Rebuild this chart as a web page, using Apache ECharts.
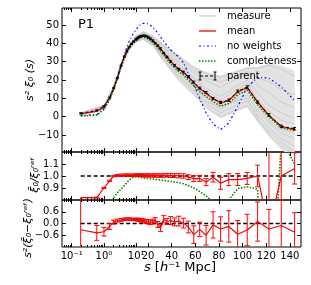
<!DOCTYPE html>
<html><head><meta charset="utf-8">
<script src="https://cdn.jsdelivr.net/npm/echarts@6/dist/echarts.min.js"></script>
<style>html,body{margin:0;padding:0;background:#fff}#c{width:311px;height:285px}</style>
</head><body><div id="c"></div>
<script>
// ---------- data ----------
const sVals = [0.19, 0.6, 1.0, 1.5, 2.0, 2.6, 3.4, 4.3, 5.1, 6.0, 7.1, 8.3, 9.8, 10.6, 11.5, 12.5, 13.5, 14.7, 15.9, 17.3, 18.8, 20.4, 22.1, 24.0, 26.0, 28.2, 30.6, 33.2, 36.0, 39.1, 42.4, 46.0, 49.9, 54.1, 58.7, 63.7, 69.1, 75.0, 81.4, 88.3, 95.8, 103.9, 112.7, 122.3, 132.7, 144.0];
const meanVals = [1.5, 2.9, 5.3, 10.3, 15.6, 21.2, 28.0, 33.0, 35.8, 38.0, 39.9, 41.2, 42.3, 42.8, 43.3, 43.7, 44.0, 44.3, 44.4, 44.3, 43.9, 43.3, 42.6, 41.6, 40.3, 38.8, 37.0, 34.9, 32.7, 30.3, 28.1, 26.0, 24.3, 21.6, 18.3, 15.3, 12.6, 9.8, 7.5, 8.8, 13.4, 15.9, 8.0, 0.6, -5.4, -7.1];
const parentVals = [1.8, 3.4, 5.7, 10.4, 15.5, 21.0, 27.8, 32.8, 35.6, 37.8, 39.7, 41.0, 42.1, 42.6, 43.1, 43.5, 43.8, 44.1, 44.2, 44.2, 43.8, 43.2, 42.5, 41.5, 40.1, 38.8, 37.2, 34.7, 32.6, 30.1, 28.0, 25.9, 24.3, 21.8, 18.9, 15.6, 13.2, 9.9, 7.8, 9.0, 13.9, 16.2, 7.9, 0.9, -5.3, -6.6];
const parentErr = [0.3, 0.3, 0.3, 0.3, 0.3, 0.3, 0.3, 0.3, 0.3, 0.3, 0.3, 0.3, 0.3, 0.3, 0.3, 0.3, 0.3, 0.3, 0.3, 0.3, 0.3, 0.4, 0.4, 0.4, 0.4, 0.4, 0.4, 0.4, 0.4, 0.4, 0.5, 0.5, 0.5, 0.5, 0.5, 0.5, 0.5, 0.5, 0.6, 0.6, 0.6, 0.6, 0.6, 0.7, 0.7, 0.7];
const noWeightVals = [0.6, 1.2, 4.5, 9.8, 15.3, 21.3, 28.3, 33.8, 37.8, 41.0, 43.6, 45.6, 47.4, 48.2, 48.9, 49.6, 50.1, 50.6, 50.9, 51.0, 50.9, 50.5, 49.8, 48.8, 47.5, 45.6, 43.5, 41.2, 38.8, 36.5, 34.5, 32.6, 29.5, 23.5, 17.3, 10.0, 2.0, -4.0, -7.0, -3.5, 5.5, 16.0, 21.5, 21.0, 16.3, 8.8];
const complVals = [0.3, 0.8, 3.8, 9.2, 14.8, 20.5, 27.2, 32.2, 35.0, 37.2, 39.0, 40.3, 41.3, 41.8, 42.3, 42.7, 43.0, 43.3, 43.4, 43.3, 42.9, 42.3, 41.5, 40.5, 39.2, 37.6, 35.8, 33.6, 31.4, 29.0, 26.8, 24.6, 22.8, 20.0, 16.8, 13.7, 11.0, 8.2, 5.8, 7.2, 11.8, 14.5, 6.6, -0.2, -6.0, -7.6];

const ratioVals = [0.82, 0.82, 0.90, 0.96, 1.0, 1.005, 1.006, 1.006, 1.007, 1.006, 1.005, 1.006, 1.007, 1.006, 1.005, 1.006, 1.007, 1.006, 1.005, 1.004, 1.005, 1.006, 1.004, 1.003, 1.005, 1.004, 1.003, 1.005, 1.006, 1.004, 1.003, 1.002, 1.0, 0.99, 0.978, 0.98, 0.95, 0.99, 0.94, 0.97, 0.97, 0.98, 1.0, 0.55, 1.0, 1.063];
const ratioErrLo = [1.0, 0.004, 0.005, 0.005, 0.006, 0.008, 0.01, 0.01, 0.01, 0.01, 0.01, 0.01, 0.01, 0.01, 0.01, 0.01, 0.01, 0.01, 0.01, 0.012, 0.012, 0.012, 0.012, 0.013, 0.013, 0.014, 0.014, 0.015, 0.015, 0.016, 0.016, 0.018, 0.018, 0.02, 0.025, 0.025, 0.03, 0.04, 0.05, 0.05, 0.05, 0.05, 0.09, 1.0, 0.3, 0.13];
const ratioErrHi = [0.0, 0.004, 0.005, 0.005, 0.006, 0.008, 0.01, 0.01, 0.01, 0.01, 0.01, 0.01, 0.01, 0.01, 0.01, 0.01, 0.01, 0.01, 0.01, 0.012, 0.012, 0.012, 0.012, 0.013, 0.013, 0.014, 0.014, 0.015, 0.015, 0.016, 0.016, 0.018, 0.018, 0.02, 0.025, 0.025, 0.03, 0.04, 0.05, 0.05, 0.05, 0.05, 0.09, 1.0, 0.3, 0.13];
const complRatioVals = [0.2, 0.28, 0.7, 0.77, 0.82, 0.86, 0.89, 0.92, 0.945, 0.965, 0.98, 0.99, 0.993, 0.993, 0.992, 0.99, 0.988, 0.986, 0.984, 0.982, 0.98, 0.978, 0.976, 0.974, 0.972, 0.97, 0.967, 0.963, 0.96, 0.955, 0.95, 0.945, 0.935, 0.92, 0.9, 0.87, 0.835, 0.78, 0.7, 0.8, 0.895, 0.91, 0.89, -0.6, 1.3, 1.1];

const diffVals = [-0.32, -0.48, -0.42, -0.15, 0.07, 0.15, 0.18, 0.22, 0.22, 0.23, 0.22, 0.21, 0.2, 0.21, 0.2, 0.19, 0.18, 0.15, 0.15, 0.12, 0.1, 0.08, 0.05, 0.1, 0.18, -0.05, -0.22, 0.22, 0.1, 0.15, 0.08, 0.12, 0.02, -0.18, -0.57, -0.3, -0.6, -0.07, -0.28, -0.15, -0.55, -0.33, 0.1, -0.28, -0.1, -0.45];
const diffErr = [3.0, 0.38, 0.22, 0.15, 0.1, 0.08, 0.07, 0.06, 0.06, 0.06, 0.06, 0.06, 0.06, 0.06, 0.07, 0.07, 0.07, 0.08, 0.08, 0.09, 0.1, 0.1, 0.11, 0.12, 0.12, 0.15, 0.18, 0.18, 0.15, 0.2, 0.2, 0.25, 0.25, 0.3, 0.45, 0.37, 0.5, 0.67, 0.62, 0.8, 0.7, 0.8, 1.0, 1.0, 1.3, 1.0];

// individual mock measurements ("measure"), on a coarser grid
const sGray = [0.19, 1.0, 2.0, 3.4, 6.0, 9.8, 15.9, 24.0, 33.2, 46.0, 58.7, 69.1, 81.4, 95.8, 103.9, 112.7, 122.3, 132.7, 144.0];
const grayUpper = [2.2, 6.4, 17.0, 29.5, 39.5, 44.2, 46.8, 44.5, 39.5, 33.5, 27.5, 24.5, 22.5, 25.5, 27.0, 27.0, 29.0, 28.0, 25.0];
const grayLower = [0.8, 4.2, 14.2, 26.5, 36.5, 40.5, 42.0, 38.5, 30.0, 19.5, 11.5, 4.5, -1.0, 3.0, 5.0, -3.0, -11.0, -18.0, -23.0];
const gray1 = [2.0, 6.2, 16.7, 29.0, 39.2, 44.0, 46.3, 43.8, 38.2, 31.5, 25.5, 21.0, 19.0, 22.5, 24.5, 21.0, 19.0, 15.0, 12.0];
const gray2 = [1.0, 4.4, 14.5, 26.9, 36.9, 40.9, 42.6, 39.3, 31.2, 21.5, 13.5, 7.0, 2.0, 6.5, 8.5, 1.0, -6.0, -12.0, -16.0];
const gray3 = [1.7, 5.6, 16.0, 28.4, 38.5, 43.0, 45.2, 42.5, 36.0, 28.5, 21.5, 15.5, 11.0, 17.0, 20.0, 13.0, 6.0, 2.0, -1.0];
const gray4 = [1.3, 4.9, 15.2, 27.5, 37.4, 41.7, 43.7, 40.6, 33.2, 23.8, 16.0, 9.5, 4.0, 10.0, 12.0, 3.0, -3.0, -9.0, -12.0];
const gray5 = [1.9, 5.9, 16.4, 28.7, 38.9, 43.6, 45.8, 43.2, 37.4, 30.0, 24.0, 19.5, 16.0, 21.0, 24.0, 17.0, 13.0, 8.0, 5.0];
const gray6 = [1.2, 4.6, 14.9, 27.2, 37.1, 41.2, 43.1, 39.8, 32.0, 22.5, 14.5, 8.0, 5.0, 9.0, 10.0, -1.0, -10.0, -16.0, -20.0];
const gray7 = [1.6, 5.4, 15.8, 28.2, 38.2, 42.6, 44.8, 42.0, 35.5, 27.5, 20.5, 14.0, 9.0, 15.0, 18.0, 9.5, 3.0, -2.0, -4.0];
const gray8 = [1.4, 5.1, 15.5, 27.8, 37.7, 42.1, 44.1, 41.0, 34.0, 25.0, 17.5, 11.0, 6.0, 12.5, 14.5, 6.0, -2.0, -7.0, -9.0];
const gray9 = [1.8, 6.0, 16.6, 28.9, 39.0, 43.8, 46.0, 44.0, 39.0, 33.0, 27.0, 23.5, 21.5, 24.5, 26.5, 26.5, 28.0, 26.0, 22.0];
const gray10 = [1.1, 4.3, 14.4, 26.7, 36.7, 40.7, 42.3, 38.8, 30.5, 20.0, 12.0, 5.0, 0.0, 4.0, 6.0, -2.0, -8.0, -14.0, -19.0];
const grayLines = [gray1, gray2, gray3, gray4, gray5, gray6, gray7, gray8, gray9, gray10];

// axis ticks
const xMajor = [0.1, 1, 10, 20, 40, 60, 80, 100, 120, 140];
const xMajorLabels = ['10\u207B\u00B9', '10\u2070', '10\u00B9', '20', '40', '60', '80', '100', '120', '140'];
const xMinor = [0.06, 0.07, 0.08, 0.09, 0.2, 0.3, 0.4, 0.5, 0.6, 0.7, 0.8, 0.9, 2, 3, 4, 5, 6, 7, 8, 9];
const yTopTicks = [-10, 0, 10, 20, 30, 40, 50];
const yMidTicks = [0.9, 1.0, 1.1];
const yMidLabels = ['0.9', '1.0', '1.1'];
const yBotTicks = [-0.6, 0.0, 0.6];
const yBotLabels = ['\u22120.6', '0.0', '0.6'];

// ---------- hybrid axis: log below s=10, linear above ----------
const LIN_K = 27.3;
function toU(s) { return s <= 10 ? Math.log10(s) : 1 + (s - 10) / LIN_K; }
const X_MIN = toU(0.0501), X_MAX = toU(149.4);

const FONT = 'DejaVu Sans';
const chart = echarts.init(document.getElementById('c'), null, {renderer: 'canvas'});

const grids = [
  {left: 62, top: 8, width: 239, height: 144},
  {left: 62, top: 152, width: 239, height: 48},
  {left: 62, top: 200, width: 239, height: 47}
];
const yRanges = [[-19.3, 59.3], [0.8, 1.2], [-1.2, 1.2]];
const yTicks = [yTopTicks, yMidTicks, yBotTicks];

const xAxes = [], yAxes = [];
grids.forEach((g, gi) => {
  ['bottom', 'top'].forEach(pos => {
    [[xMajor, 4], [xMinor, 2]].forEach(([vals, len], k) => {
      const showLab = gi === 2 && pos === 'bottom' && k === 0;
      xAxes.push({
        type: 'value', gridIndex: gi, position: pos, min: X_MIN, max: X_MAX,
        axisLine: {show: false, onZero: false}, splitLine: {show: false},
        axisTick: {show: true, inside: true, length: len, customValues: vals.map(toU), lineStyle: {color: '#000', width: 1}},
        axisLabel: {show: showLab, customValues: xMajor.map(toU), margin: 4, fontFamily: FONT, fontSize: 10, color: '#000',
          formatter: v => { for (let i = 0; i < xMajor.length; i++) if (Math.abs(toU(xMajor[i]) - v) < 1e-6) return xMajorLabels[i]; return ''; }}
      });
    });
  });
  ['left', 'right'].forEach(pos => {
    const showLab = pos === 'left';
    yAxes.push({
      type: 'value', gridIndex: gi, position: pos, min: yRanges[gi][0], max: yRanges[gi][1],
      axisLine: {show: false, onZero: false}, splitLine: {show: false},
      axisTick: {show: true, inside: true, length: 4, customValues: yTicks[gi], lineStyle: {color: '#000'}},
      axisLabel: {show: showLab, customValues: yTicks[gi], margin: 3, fontFamily: FONT, fontSize: 10, color: '#000',
        formatter: v => {
          if (gi === 0) return v < 0 ? '\u2212' + Math.abs(v) : String(v);
          const arr = gi === 1 ? yMidTicks : yBotTicks, lab = gi === 1 ? yMidLabels : yBotLabels;
          for (let i = 0; i < arr.length; i++) if (Math.abs(arr[i] - v) < 1e-6) return lab[i];
          return '';
        }}
    });
  });
});

function lineSeries(gi, xs, ys, color, width, type, z) {
  return {type: 'line', xAxisIndex: gi * 4, yAxisIndex: gi * 2, data: xs.map((s, i) => [toU(s), ys[i]]),
    symbol: 'none', clip: true, silent: true, z: z,
    lineStyle: {color: color, width: width, type: type, cap: 'butt'}};
}
function errSeries(gi, xs, ys, lo, hi, color, lw, cap, z) {
  return {type: 'custom', xAxisIndex: gi * 4, yAxisIndex: gi * 2, z: z, silent: true,
    data: xs.map((s, i) => [toU(s), ys[i], lo[i], hi[i]]),
    encode: {x: 0, y: 1},
    renderItem: function (params, api) {
      const x = api.value(0), y = api.value(1), l = api.value(2), h = api.value(3);
      const cs = params.coordSys;
      const pt = api.coord([x, y + h]), pb = api.coord([x, y - l]);
      const y0 = cs.y, y1 = cs.y + cs.height;
      const ch = [];
      const ty = Math.max(pt[1], y0), by = Math.min(pb[1], y1);
      const st = {stroke: color, lineWidth: lw};
      if (by > ty) ch.push({type: 'line', shape: {x1: pt[0], y1: ty, x2: pt[0], y2: by}, style: st});
      if (h > 0 && pt[1] >= y0 && pt[1] <= y1) ch.push({type: 'line', shape: {x1: pt[0] - cap, y1: pt[1], x2: pt[0] + cap, y2: pt[1]}, style: st});
      if (l > 0 && pb[1] >= y0 && pb[1] <= y1) ch.push({type: 'line', shape: {x1: pb[0] - cap, y1: pb[1], x2: pb[0] + cap, y2: pb[1]}, style: st});
      return {type: 'group', children: ch};
    }};
}

const series = [];
series.push({type: 'custom', xAxisIndex: 0, yAxisIndex: 0, z: 1, silent: true, clip: true,
  data: sGray.map((s, i) => [toU(s), grayUpper[i], grayLower[i]]),
  encode: {x: 0, y: 1},
  renderItem: function (params, api) {
    if (params.dataIndex !== 0) return null;
    const up = sGray.map((s, i) => api.coord([toU(s), grayUpper[i]]));
    const lo = sGray.map((s, i) => api.coord([toU(s), grayLower[i]])).reverse();
    const cs = params.coordSys;
    return {type: 'polygon', shape: {points: up.concat(lo)}, style: {fill: '#e3e3e3'},
      clipPath: {type: 'rect', shape: {x: cs.x, y: cs.y, width: cs.width, height: cs.height}}};
  }});
grayLines.forEach(g => series.push(lineSeries(0, sGray, g, '#cdcdcd', 1, 'solid', 2)));
// top panel
series.push(lineSeries(0, sVals, meanVals, '#ff0000', 1.3, 'solid', 3));
series.push(lineSeries(0, sVals, noWeightVals, '#0000ff', 1.2, [2, 2.5, 1, 2.5], 4));
series.push(lineSeries(0, sVals, complVals, '#008000', 1.5, [1.5, 1.5], 5));
series.push(errSeries(0, sVals, parentVals, parentErr, parentErr, '#000', 1, 1.5, 6));
series.push(lineSeries(0, sVals, parentVals, '#000', 1, [3, 2], 6));
// middle panel
series.push(lineSeries(1, [sVals[0], sVals[sVals.length - 1]], [1, 1], '#000', 1.5, [4, 2.5], 3));
series.push(lineSeries(1, sVals, complRatioVals, '#008000', 1.5, [1.5, 1.5], 4));
series.push(lineSeries(1, sVals, ratioVals, '#ff0000', 1.2, 'solid', 5));
series.push(errSeries(1, sVals, ratioVals, ratioErrLo, ratioErrHi, '#ff0000', 1, 2.5, 5));
// bottom panel
series.push(lineSeries(2, [sVals[0], sVals[sVals.length - 1]], [0, 0], '#000', 1.5, [4, 2.5], 3));
series.push(lineSeries(2, sVals, diffVals, '#ff0000', 1.2, 'solid', 5));
series.push(errSeries(2, sVals, diffVals, diffErr, diffErr, '#ff0000', 1, 2.5, 5));

// legend
const legY = [16, 31, 46, 61, 76];
const legNames = ['measure', 'mean', 'no weights', 'completeness', 'parent'];
const lx0 = 199, lx1 = 216, tx = 227;
const graphics = [];
graphics.push({type: 'line', shape: {x1: lx0, y1: legY[0], x2: lx1, y2: legY[0]}, style: {stroke: '#cdcdcd', lineWidth: 1.2}, z: 50});
graphics.push({type: 'line', shape: {x1: lx0, y1: legY[1], x2: lx1, y2: legY[1]}, style: {stroke: '#ff0000', lineWidth: 1.3}, z: 50});
graphics.push({type: 'line', shape: {x1: lx0, y1: legY[2], x2: lx1, y2: legY[2]}, style: {stroke: '#0000ff', lineWidth: 1.2, lineDash: [2, 2.5, 1, 2.5]}, z: 50});
graphics.push({type: 'line', shape: {x1: lx0, y1: legY[3], x2: lx1, y2: legY[3]}, style: {stroke: '#008000', lineWidth: 1.5, lineDash: [1.5, 1.5]}, z: 50});
graphics.push({type: 'line', shape: {x1: lx0 + 1, y1: legY[4], x2: lx1 - 1, y2: legY[4]}, style: {stroke: '#000', lineWidth: 1, lineDash: [3, 2]}, z: 50});
[lx0 + 1, lx1 - 1].forEach(x => {
  graphics.push({type: 'line', shape: {x1: x, y1: legY[4] - 4, x2: x, y2: legY[4] + 4}, style: {stroke: '#000', lineWidth: 1}, z: 50});
  graphics.push({type: 'line', shape: {x1: x - 1.5, y1: legY[4] - 4, x2: x + 1.5, y2: legY[4] - 4}, style: {stroke: '#000', lineWidth: 1}, z: 50});
  graphics.push({type: 'line', shape: {x1: x - 1.5, y1: legY[4] + 4, x2: x + 1.5, y2: legY[4] + 4}, style: {stroke: '#000', lineWidth: 1}, z: 50});
});
legNames.forEach((n, i) => graphics.push({type: 'text', x: tx, y: legY[i], z: 50,
  style: {text: n, font: '10px "DejaVu Sans"', fill: '#000', align: 'left', verticalAlign: 'middle'}}));
graphics.push({type: 'text', x: 78, y: 25, z: 50, style: {text: 'P1', font: '13px "DejaVu Sans"', fill: '#000', align: 'left', verticalAlign: 'middle'}});
graphics.push({type: 'text', x: 30, y: 80, rotation: Math.PI / 2, z: 50,
  style: {text: 's\u00B2 \u03BE\u2080 (s)', font: 'italic 11px "DejaVu Sans"', fill: '#000', align: 'center', verticalAlign: 'middle'}});
graphics.push({type: 'text', x: 35, y: 175, rotation: Math.PI / 2, z: 50,
  style: {text: '\u03BE\u0304\u2080/\u03BE\u2080\u02B3\u1D49\u1DA0', font: 'italic 11px "DejaVu Sans"', fill: '#000', align: 'center', verticalAlign: 'middle'}});
graphics.push({type: 'text', x: 28, y: 228, rotation: Math.PI / 2, z: 50,
  style: {text: 's\u00B2(\u03BE\u0304\u2080\u2212\u03BE\u2080\u02B3\u1D49\u1DA0)', font: 'italic 11px "DejaVu Sans"', fill: '#000', align: 'center', verticalAlign: 'middle'}});
graphics.push({type: 'text', x: 180, y: 268, z: 50,
  style: {text: '{i|s} [{i|h}\u207B\u00B9 Mpc]', font: '13px "DejaVu Sans"', fill: '#000', align: 'center', verticalAlign: 'middle',
    rich: {i: {font: 'italic 13px "DejaVu Sans"', fill: '#000'}}}});

chart.setOption({
  animation: false,
  backgroundColor: '#fff',
  grid: grids.map(g => Object.assign({show: true, borderColor: '#000', borderWidth: 1, backgroundColor: 'transparent'}, g)),
  xAxis: xAxes,
  yAxis: yAxes,
  series: series,
  graphic: graphics
});
</script></body></html>
